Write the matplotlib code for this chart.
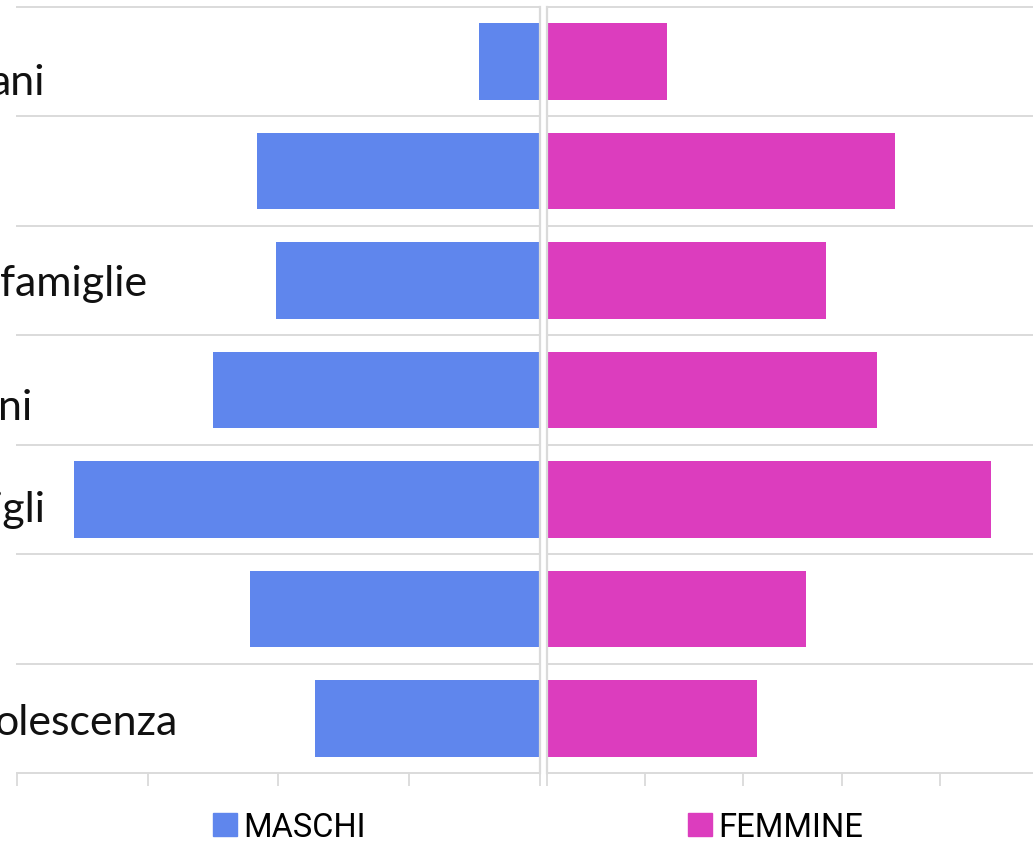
import matplotlib
matplotlib.use("Agg")
import matplotlib.pyplot as plt
from matplotlib.transforms import blended_transform_factory
import numpy as np

# ---- data ----
categories = ["ani", "", "famiglie", "ni", "igli", "", "olescenza"]
maschi = [2.3, 10.8, 10.1, 12.5, 17.8, 11.1, 8.6]
femmine = [6.1, 17.7, 14.2, 16.8, 22.6, 13.2, 10.7]
ticks_left = [0, 5, 10, 15, 20]
ticks_right = [0, 5, 10, 15, 20, 25]
series_names = ["MASCHI", "FEMMINE"]

# ---- layout / style ----
W, H = 1033, 845
BLUE = "#5F86ED"
PINK = "#DC3DBE"
GRID = "#DADADA"
label_right_px = [45, None, 147, 32, 46, None, 177]
label_baseline_off_px = [32, 0, 14, 29, 22, 0, 16]

fig = plt.figure(figsize=(W / 100, H / 100), dpi=100)


def ax_rect(x0, x1, y0, y1):
    return [x0 / W, 1 - y1 / H, (x1 - x0) / W, (y1 - y0) / H]


TOP, BOT = 8, 774
axL = fig.add_axes(ax_rect(17, 539.5, TOP, BOT))
axR = fig.add_axes(ax_rect(546.7, 546.7 + 25 * 19.66, TOP, BOT))

n = len(categories)
ypos = np.arange(n) + 0.5
row_px = (BOT - TOP) / n

for ax, vals, col, ticks, lim in [
    (axL, maschi, BLUE, ticks_left, (20, 0)),
    (axR, femmine, PINK, ticks_right, (0, 25)),
]:
    ax.barh(ypos, vals, height=0.70, color=col, zorder=2)
    ax.set_xlim(*lim)
    ax.set_ylim(n, 0)
    ax.set_xticks(ticks)
    ax.set_yticks([])
    for k in range(n):
        ax.axhline(k, color=GRID, lw=1.4, zorder=1, clip_on=False)
    for s in ax.spines.values():
        s.set_visible(False)
    ax.spines["bottom"].set_visible(True)
    ax.spines["bottom"].set_color(GRID)
    ax.spines["bottom"].set_linewidth(1.4)
    ax.tick_params(axis="x", length=9.5, width=1.3, color=GRID,
                   labelbottom=False, direction="out")
    ax.patch.set_alpha(0)

axL.spines["right"].set_visible(True)
axL.spines["right"].set_color(GRID)
axL.spines["right"].set_linewidth(1.6)
axR.spines["left"].set_visible(True)
axR.spines["left"].set_color(GRID)
axR.spines["left"].set_linewidth(1.6)

# category labels (cropped on the left, as in the reference)
tr = blended_transform_factory(fig.transFigure, axL.transData)
for i, lab in enumerate(categories):
    if not lab:
        continue
    y = ypos[i] + label_baseline_off_px[i] / row_px
    axL.text(label_right_px[i] / W, y, lab, transform=tr, ha="right",
             va="baseline", fontsize=31, family="Lato", color="#111111",
             clip_on=False, zorder=3)

# legend
h1 = plt.Rectangle((0, 0), 1, 1, color=BLUE)
h2 = plt.Rectangle((0, 0), 1, 1, color=PINK)
leg = fig.legend([h1, h2], series_names, ncol=2, frameon=False,
                 loc="center left", bbox_to_anchor=(213 / W, 1 - 828 / H),
                 prop={"family": "Roboto", "size": 23.5},
                 handlelength=0.735, handleheight=0.735, handletextpad=0.18,
                 columnspacing=9.9, borderpad=0, borderaxespad=0)

fig.savefig("out.png", dpi=100)
